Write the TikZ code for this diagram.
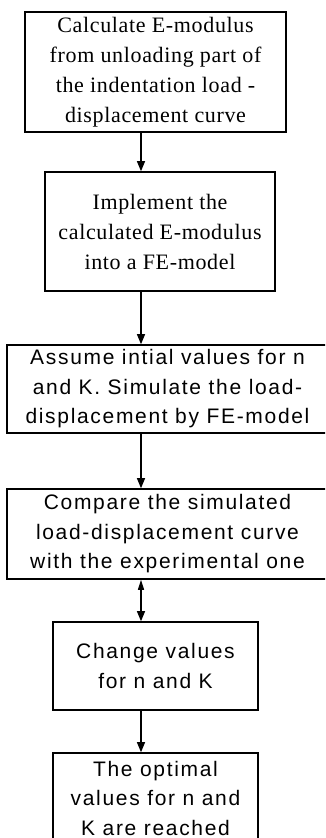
\documentclass[tikz,border=0pt]{standalone}
\usepackage{fontspec}
\newfontfamily\boxserif[LetterSpace=3]{Liberation Serif}
\newfontfamily\boxsans[LetterSpace=8]{Liberation Sans}
\usetikzlibrary{arrows.meta, positioning}
\tikzstyle{serifstep} = [rectangle, draw=black, line width=1.6pt, align=center, text centered, font=\boxserif\fontsize{22}{30}\selectfont, inner sep=0pt]
\tikzstyle{sansstep} = [rectangle, draw=black, line width=1.6pt, align=center, text centered, font=\boxsans\fontsize{21}{29.5}\selectfont, inner sep=0pt]
\tikzstyle{arrow} = [line width=1.2pt, -{Triangle[length=10pt,width=8pt]}]
\tikzstyle{twoway} = [line width=1.2pt, {Triangle[length=10pt,width=6pt]}-{Triangle[length=10pt,width=8pt]}]

\begin{document}
\begin{tikzpicture}[node distance=145pt]

    % Rahmen
    \path[use as bounding box, clip] (0pt,0pt) rectangle (325pt,-838pt);

    % Knoten
    \node (emod) [serifstep, minimum width=261pt, minimum height=120pt] at (155.5pt,-72pt)
        {Calculate E-modulus\\from unloading part of\\the indentation load -\\displacement curve};
    \node (impl) [serifstep, minimum width=230pt, minimum height=119pt, below of=emod, yshift=-14.5pt, xshift=4.5pt]
        {Implement the\\calculated E-modulus\\into a FE-model};
    \node (assume) [sansstep, minimum width=321pt, minimum height=88pt, below of=impl, yshift=-12.5pt, xshift=7.5pt]
        {Assume intial values for n\\and K. Simulate the load-\\displacement by FE-model};
    \node (compare) [sansstep, minimum width=321pt, minimum height=90pt, below of=assume]
        {Compare the simulated\\load-displacement curve\\with the experimental one};
    \node (change) [sansstep, minimum width=205pt, minimum height=88pt, below of=compare, yshift=13pt, xshift=-12pt]
        {Change values\\for n and K};
    \node (optimal) [sansstep, minimum width=205pt, minimum height=90pt, below of=change, yshift=13pt]
        {The optimal\\values for n and\\K are reached};

    % Pfeile
    \coordinate (ax) at (141pt,0pt);
    \draw [arrow] (emod.south -| ax) -- (impl.north -| ax);
    \draw [arrow] (impl.south -| ax) -- (assume.north -| ax);
    \draw [arrow] (assume.south -| ax) -- (compare.north -| ax);
    \draw [twoway] (compare.south -| ax) -- (change.north -| ax);
    \draw [arrow] (change.south -| ax) -- (optimal.north -| ax);

\end{tikzpicture}
\end{document}
